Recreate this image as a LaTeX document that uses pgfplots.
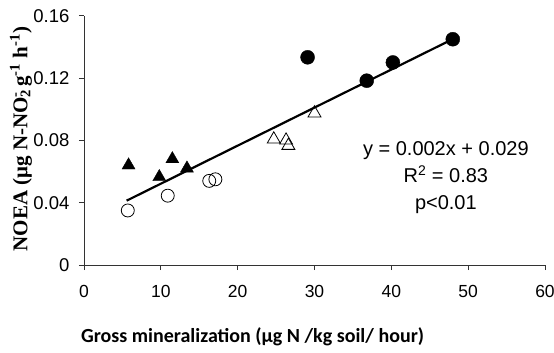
\documentclass[border=0pt]{standalone}
\usepackage{pgfplots}
\pgfplotsset{compat=1.18}
\usepackage{fontspec}
\setmainfont{Liberation Sans}
\newfontfamily\timesf{Liberation Serif}
\newfontfamily\carlito{Carlito}
\begin{document}
\begin{tikzpicture}
\useasboundingbox (-84pt,-88pt) rectangle (470pt,265pt);
\begin{axis}[
  scale only axis, width=461pt, height=249.3pt,
  xmin=0, xmax=60, ymin=0, ymax=0.16,
  axis lines=left, axis line style={-, line width=0.8pt, black!80},
  tick align=outside, major tick length=5pt,
  tick style={line width=0.8pt, black!80},
  xtick={0,10,...,60}, ytick={0,0.04,0.08,0.12,0.16},
  yticklabels={0,0.04,0.08,0.12,0.16},
  /pgf/number format/assume math mode=true,
  xticklabel style={font=\fontsize{17.5}{20}\selectfont, yshift=-12pt},
  yticklabel style={font=\fontsize{18.5}{21}\selectfont, xshift=-6pt},
  clip=false,
  xlabel={Gross mineralization (µg N /kg soil/ hour)},
  xlabel style={font=\carlito\bfseries\fontsize{20}{23}\selectfont, at={(axis description cs:0.3657,-0.2888)}, anchor=center},
  ylabel={NOEA (μg N-NO\rlap{\textsubscript{2}}\textsuperscript{-} g\textsuperscript{-1} h\textsuperscript{-1})},
  ylabel style={font=\timesf\bfseries\fontsize{21}{25}\selectfont, at={(axis description cs:-0.1367,0.505)}, anchor=center},
]
% filled triangles
\addplot[only marks, mark=triangle*, mark size=7.5pt, mark options={fill=black, draw=black}] coordinates {
(5.8,0.064) (9.8,0.0565) (11.5,0.068) (13.4,0.062)};
% open circles
\addplot[only marks, mark=o, mark size=6.5pt, mark options={fill=white, draw=black, line width=0.8pt}] coordinates {
(5.7,0.035) (10.9,0.0445) (16.3,0.054) (17.1,0.055)};
% open triangles
\addplot[only marks, mark=triangle, mark size=7.5pt, mark options={fill=white, draw=black, line width=0.8pt}] coordinates {
(24.7,0.0807) (26.3,0.080) (26.6,0.0766) (30.0,0.0974)};
% regression line
\addplot[black, line width=2.2pt] coordinates {(5.55,0.0413) (48,0.145)};
% filled circles
\addplot[only marks, mark=*, mark size=7pt, mark options={fill=black, draw=black}] coordinates {
(29.1,0.1333) (36.8,0.1183) (40.2,0.130) (48.0,0.1449)};
\node[align=center, font=\fontsize{20}{27}\selectfont] at (axis cs:47.1,0.0558) {y = 0.002x + 0.029\\R\textsuperscript{2} = 0.83\\p<0.01};
\end{axis}
\end{tikzpicture}
\end{document}
